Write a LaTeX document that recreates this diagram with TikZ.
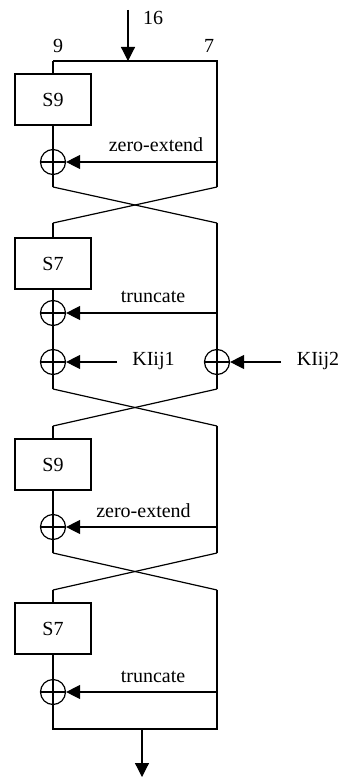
\documentclass[tikz,border=0pt]{standalone}
\usepackage{fontspec}
\setmainfont{Liberation Serif}
\usetikzlibrary{arrows.meta}

\begin{document}
\begin{tikzpicture}[x=1pt,y=-1pt,line width=1.2pt,
    sbox/.style={draw,minimum width=76pt,minimum height=51pt,inner sep=0pt,font=\fontsize{20}{24}\selectfont},
    xor/.style={draw,circle,minimum size=25pt,inner sep=0pt},
    lbl/.style={inner sep=0pt,anchor=base,font=\fontsize{20}{24}\selectfont},
    tip/.style={-{Triangle[length=14pt,width=14pt]}}]
  \useasboundingbox (0,0) rectangle (342,778);

  % input
  \coordinate (in) at (128,10);
  \coordinate (tl) at (53,61);
  \coordinate (tr) at (217,61);
  \coordinate (tm) at (128,61);
  \draw[tip] (in) -- (tm);
  \node[lbl] at (153,25) {16};
  \node[lbl] at (58,53) {9};
  \node[lbl] at (209,53) {7};

  % round 1
  \node[sbox] (s1) at (53,99.5) {S9};
  \node[xor] (x1) at (53,162) {};
  \coordinate (r1) at (217,162);
  \coordinate (a1) at (53,187);
  \coordinate (b1) at (217,187);
  \draw (tl) -- (tr) -- (b1);
  \draw (tl) -- (s1.north);
  \draw (s1.south) -- (a1);
  \draw (x1.west) -- (x1.east);
  \draw[tip] (r1) -- (x1.east);
  \node[lbl] at (156,152) {zero-extend};

  % swap
  \coordinate (a2) at (53,223);
  \coordinate (b2) at (217,223);
  \draw (a1) -- (b2);
  \draw (b1) -- (a2);

  % round 2
  \node[sbox] (s2) at (53,263.5) {S7};
  \node[xor] (x2) at (53,313) {};
  \node[xor] (x3) at (53,362) {};
  \node[xor] (x4) at (217,362) {};
  \coordinate (r2) at (217,313);
  \coordinate (k1) at (117,362);
  \coordinate (k2) at (281,362);
  \coordinate (a3) at (53,389);
  \coordinate (b3) at (217,389);
  \draw (a2) -- (s2.north);
  \draw (s2.south) -- (a3);
  \draw (b2) -- (b3);
  \foreach \n in {x2,x3,x4} \draw (\n.west) -- (\n.east);
  \draw[tip] (r2) -- (x2.east);
  \draw[tip] (k1) -- (x3.east);
  \draw[tip] (k2) -- (x4.east);
  \node[lbl] at (153,302) {truncate};
  \node[lbl] at (153.5,365) {KIij1};
  \node[lbl] at (318,365) {KIij2};

  % swap
  \coordinate (a4) at (53,426);
  \coordinate (b4) at (217,426);
  \draw (a3) -- (b4);
  \draw (b3) -- (a4);

  % round 3
  \node[sbox] (s3) at (53,464.5) {S9};
  \node[xor] (x5) at (53,527) {};
  \coordinate (r3) at (217,527);
  \coordinate (a5) at (53,553);
  \coordinate (b5) at (217,553);
  \draw (a4) -- (s3.north);
  \draw (s3.south) -- (a5);
  \draw (b4) -- (b5);
  \draw (x5.west) -- (x5.east);
  \draw[tip] (r3) -- (x5.east);
  \node[lbl] at (143.5,517) {zero-extend};

  % swap
  \coordinate (a6) at (53,590);
  \coordinate (b6) at (217,590);
  \draw (a5) -- (b6);
  \draw (b5) -- (a6);

  % round 4
  \node[sbox] (s4) at (53,628.5) {S7};
  \node[xor] (x6) at (53,692) {};
  \coordinate (r4) at (217,692);
  \coordinate (bl) at (53,729);
  \coordinate (br) at (217,729);
  \coordinate (bm) at (142,729);
  \coordinate (out) at (142,777);
  \draw (a6) -- (s4.north);
  \draw (s4.south) -- (bl) -- (br) -- (b6);
  \draw (x6.west) -- (x6.east);
  \draw[tip] (r4) -- (x6.east);
  \node[lbl] at (153,682) {truncate};

  % output
  \draw[tip] (bm) -- (out);
\end{tikzpicture}
\end{document}
